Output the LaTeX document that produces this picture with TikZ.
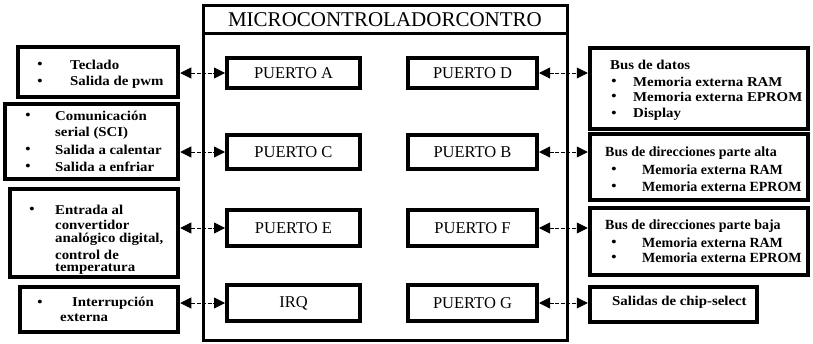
\documentclass[tikz,border=0pt]{standalone}
\usepackage{fontspec}
\setmainfont{Liberation Serif}
\newfontfamily\sidefont[FakeStretch=1.1]{Liberation Serif}
\usetikzlibrary{arrows.meta}
\begin{document}
\begin{tikzpicture}[x=1pt,y=-1pt,
  mainbox/.style={draw,line width=3pt},
  portbox/.style={draw,line width=4pt,font=\fontsize{16.5}{18}\selectfont},
  sidebox/.style={draw,line width=4.5pt},
  txt/.style={anchor=west,inner sep=0pt,font=\sidefont\fontsize{13.5}{15}\bfseries\selectfont},
  txtn/.style={anchor=west,inner sep=0pt,font=\fontsize{14}{15}\bfseries\selectfont},
  bul/.style={anchor=center,inner sep=0pt,font=\sidefont\fontsize{13.5}{15}\bfseries\selectfont},
  biarrow/.style={line width=0.8pt,dash pattern=on 4pt off 1.5pt,
    {Triangle[length=11pt,width=11pt]}-{Triangle[length=11pt,width=11pt]}}]
\useasboundingbox (0,0) rectangle (813,343);

% microcontroller frame and title bar
\draw[mainbox] (203,5) rectangle (567,340);
\draw[mainbox] (203,33) -- (567,33);
\node[inner sep=0pt,font=\fontsize{21}{24}\selectfont] (title) at (385,20) {MICROCONTROLADORCONTRO};

% ports, left column
\node[portbox,minimum width=133pt,minimum height=30pt] (pa) at (293.5,73) {PUERTO A};
\node[portbox,minimum width=133pt,minimum height=34pt] (pc) at (293.5,152) {PUERTO C};
\node[portbox,minimum width=133pt,minimum height=36pt] (pe) at (293.5,228) {PUERTO E};
\node[portbox,minimum width=133pt,minimum height=36pt] (irq) at (293.5,303) {IRQ};
% ports, right column
\node[portbox,minimum width=129pt,minimum height=30pt] (pd) at (472.5,73) {PUERTO D};
\node[portbox,minimum width=129pt,minimum height=34pt] (pb) at (472.5,152) {PUERTO B};
\node[portbox,minimum width=129pt,minimum height=36pt] (pf) at (472.5,228) {PUERTO F};
\node[portbox,minimum width=129pt,minimum height=36pt] (pg) at (472.5,303) {PUERTO G};

% peripheral boxes, left
\node[sidebox,minimum width=160pt,minimum height=50pt] (l1) at (98,72) {};
\node[sidebox,minimum width=173pt,minimum height=75pt] (l2) at (91.5,141.5) {};
\node[sidebox,minimum width=168pt,minimum height=88pt] (l3) at (94,233) {};
\node[sidebox,minimum width=158pt,minimum height=45pt] (l4) at (99,309.5) {};
% peripheral boxes, right
\node[sidebox,minimum width=218pt,minimum height=81pt] (r1) at (699,88.5) {};
\node[sidebox,minimum width=218pt,minimum height=66pt] (r2) at (699,167) {};
\node[sidebox,minimum width=218pt,minimum height=67pt] (r3) at (699,241.5) {};
\node[sidebox,minimum width=167pt,minimum height=35pt] (r4) at (673.5,304.5) {};

% texts, left boxes
\node[bul] (l1b1) at (40,65) {•};
\node[txt] (l1t1) at (70,65) {Teclado};
\node[bul] (l1b2) at (40,82) {•};
\node[txt] (l1t2) at (70,82) {Salida de pwm};

\node[bul] (l2b1) at (28,116) {•};
\node[txt] (l2t1) at (55,116) {Comunicación};
\node[txt] (l2t2) at (55,133) {serial (SCI)};
\node[bul] (l2b3) at (28,150) {•};
\node[txt] (l2t3) at (55,150) {Salida a calentar};
\node[bul] (l2b4) at (28,167) {•};
\node[txt] (l2t4) at (55,167) {Salida a enfriar};

\node[bul] (l3b1) at (32,210) {•};
\node[txt] (l3t1) at (55,210) {Entrada al};
\node[txt] (l3t2) at (55,224.5) {convertidor};
\node[txt] (l3t3) at (55,239.5) {analógico digital,};
\node[txt] (l3t4) at (55,255) {control de};
\node[txt] (l3t5) at (55,269.5) {temperatura};

\node[bul] (l4b1) at (40,303) {•};
\node[txt] (l4t1) at (72,303) {Interrupción};
\node[txt] (l4t2) at (60,318) {externa};

% texts, right boxes
\node[txt] (r1t0) at (610,65) {Bus de datos};
\node[bul] (r1b1) at (614,82) {•};
\node[txt] (r1t1) at (633,82) {Memoria externa RAM};
\node[bul] (r1b2) at (614,97) {•};
\node[txt] (r1t2) at (633,97) {Memoria externa EPROM};
\node[bul] (r1b3) at (614,114) {•};
\node[txt] (r1t3) at (633,114) {Display};

\node[txtn] (r2t0) at (605,153) {Bus de direcciones parte alta};
\node[bul] (r2b1) at (614,170) {•};
\node[txtn] (r2t1) at (642,170) {Memoria externa RAM};
\node[bul] (r2b2) at (614,187) {•};
\node[txtn] (r2t2) at (642,187) {Memoria externa EPROM};

\node[txtn] (r3t0) at (605,226) {Bus de direcciones parte baja};
\node[bul] (r3b1) at (614,243) {•};
\node[txtn] (r3t1) at (642,243) {Memoria externa RAM};
\node[bul] (r3b2) at (614,258) {•};
\node[txtn] (r3t2) at (642,258) {Memoria externa EPROM};

\node[txt] (r4t0) at (612,302) {Salidas de chip-select};

% bidirectional links between ports and peripherals
\draw[biarrow] (l1.east |- pa.west) -- (pa.west);
\draw[biarrow] (l2.east |- pc.west) -- (pc.west);
\draw[biarrow] (l3.east |- pe.west) -- (pe.west);
\draw[biarrow] (l4.east |- irq.west) -- (irq.west);
\draw[biarrow] (pd.east) -- (pd.east -| r1.west);
\draw[biarrow] (pb.east) -- (pb.east -| r2.west);
\draw[biarrow] (pf.east) -- (pf.east -| r3.west);
\draw[biarrow] (pg.east) -- (pg.east -| r4.west);
\end{tikzpicture}
\end{document}
